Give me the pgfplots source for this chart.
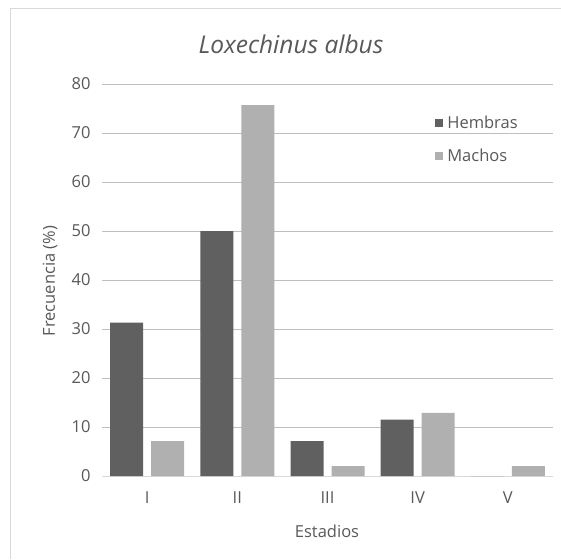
\documentclass[border=0pt]{standalone}
\usepackage{pgfplots}
\pgfplotsset{compat=1.18}
\usepackage{fontspec}
\setmainfont{Open Sans}
\definecolor{txt}{HTML}{595959}
\definecolor{grid}{HTML}{D9D9D9}
\definecolor{hem}{HTML}{606060}
\definecolor{mac}{HTML}{B0B0B0}
\begin{document}
\begin{tikzpicture}[x=1pt,y=1pt]
\path[use as bounding box, fill=white] (0,0) rectangle (561,559);
% chart frame (left and top edges)
\draw[grid, line width=1pt] (10,0) -- (10,550) -- (561,550);
\begin{axis}[
  at={(102pt,83pt)}, anchor=south west,
  scale only axis, width=451pt, height=392pt,
  ymin=0, ymax=80, ytick={0,10,...,80},
  xmin=-0.5, xmax=4.5,
  xtick={0,1,2,3,4}, xticklabels={I,II,III,IV,V},
  ybar, bar width=33pt,
  axis x line*=bottom, axis y line*=left,
  x axis line style={grid, line width=1pt, -},
  y axis line style={draw=none},
  major tick length=0pt,
  xmajorgrids=false, ymajorgrids=true,
  grid style={grid, line width=1pt},
  tick label style={font=\fontsize{16.5}{18}\selectfont, text=txt},
  /pgf/number format/assume math mode=true,
  yticklabel style={xshift=-8pt},
  xticklabel style={yshift=-12pt},
  legend style={at={(0.732,0.93)}, anchor=north west, draw=none, fill=none,
    font=\fontsize{16.5}{18}\selectfont, text=txt, row sep=15pt,
    column sep=2pt, legend cell align=left},
  legend image code/.code={\fill[#1] (0pt,-4pt) rectangle (8pt,4pt);},
]
\addplot[fill=hem, draw=none, bar shift=-20.5pt] coordinates {(0,31.3) (1,50.0) (2,7.1) (3,11.5) (4,0)};
\addplot[fill=mac, draw=none, bar shift=20.5pt] coordinates {(0,7.1) (1,75.7) (2,2.0) (3,12.9) (4,2.0)};
\legend{Hembras,Machos}
\end{axis}
\node[text=txt, font=\fontsize{24.5}{28}\selectfont\itshape] at (291,515) {Loxechinus albus};
\node[text=txt, font=\fontsize{16.5}{18}\selectfont, rotate=90] at (50,278) {Frecuencia (\%)};
\node[text=txt, font=\fontsize{16.5}{18}\selectfont] at (327,28) {Estadios};
\end{tikzpicture}
\end{document}
